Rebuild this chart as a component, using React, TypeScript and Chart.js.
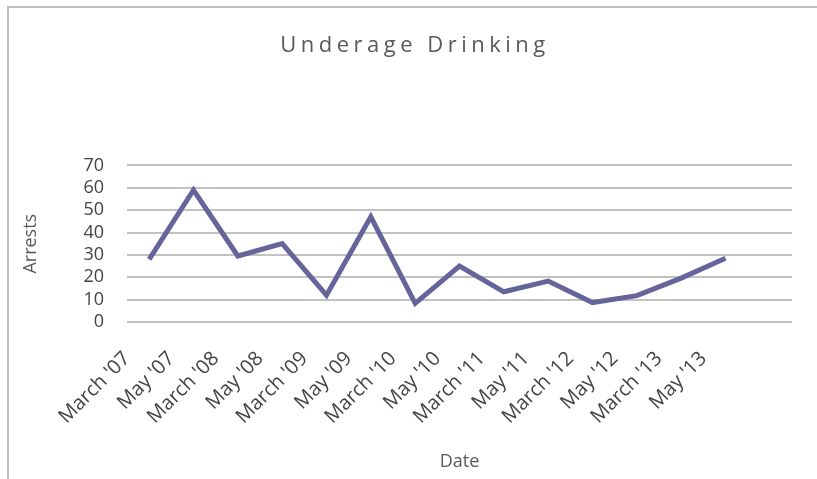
import React, { useEffect, useRef } from "react";
import { Chart, registerables } from "chart.js";

Chart.register(...registerables);

const categories = [
  "March '07", "May '07", "March '08", "May '08", "March '09", "May '09",
  "March '10", "May '10", "March '11", "May '11", "March '12", "May '12",
  "March '13", "May '13", "",
];
const arrests = [28, 59, 29.5, 35, 12, 47, 8.3, 25, 13.5, 18.3, 8.7, 11.8, 19.6, 28.5, null];
const yMin = 0;
const yMax = 70;
const yStep = 10;

const W = 817;
const H = 479;
const FONT = "'Open Sans', sans-serif";
const TEXT = "#595959";
const TICK = "#444444";

export default function App() {
  const ref = useRef<HTMLCanvasElement | null>(null);

  useEffect(() => {
    if (!ref.current) return;
    const spacedTitle = {
      id: "spacedTitle",
      afterLayout(chart: any) {
        const tb = chart.titleBlock;
        if (tb && !tb.__patched) {
          const orig = tb.draw.bind(tb);
          tb.draw = function () {
            const ctx = chart.ctx;
            ctx.save();
            (ctx as any).letterSpacing = "4.5px";
            ctx.translate(14, 0);
            orig();
            ctx.restore();
          };
          tb.__patched = true;
        }
      },
    };
    const chart = new Chart(ref.current, {
      type: "line",
      data: {
        labels: categories,
        datasets: [
          {
            label: "Arrests",
            data: arrests,
            borderColor: "#65659b",
            backgroundColor: "#65659b",
            borderWidth: 5,
            pointRadius: 0,
            tension: 0,
            spanGaps: false,
          },
        ],
      },
      options: {
        responsive: false,
        animation: false,
        layout: { padding: { left: 10, right: 25, top: 10, bottom: 0 } },
        plugins: {
          legend: { display: false },
          tooltip: { enabled: false },
          title: {
            display: true,
            text: "Underage Drinking",
            color: TEXT,
            font: { family: FONT, size: 22, weight: "normal" },
            padding: { top: 23, bottom: 106 },
          },
        },
        scales: {
          x: {
            type: "category",
            offset: true,
            grid: { display: false },
            border: { display: false },
            ticks: {
              color: TICK,
              font: { family: FONT, size: 20 },
              minRotation: 45,
              maxRotation: 45,
              autoSkip: false,
              padding: 17,
              labelOffset: -22,
            },
            title: {
              display: true,
              text: "Date",
              color: TEXT,
              font: { family: FONT, size: 18 },
              padding: { top: 0, bottom: 6 },
            },
            afterFit: (s: any) => {
              s.height = H - 322;
            },
          },
          y: {
            min: yMin,
            max: yMax,
            grid: { color: "#c2c2c2", lineWidth: 2, drawTicks: false },
            border: { display: false },
            ticks: {
              stepSize: yStep,
              autoSkip: false,
              color: TICK,
              font: { family: FONT, size: 18 },
              padding: 23,
            },
            title: {
              display: true,
              text: "Arrests",
              color: TEXT,
              font: { family: FONT, size: 18 },
              padding: { top: 10, bottom: 0 },
            },
            afterFit: (s: any) => {
              s.width = 117;
            },
          },
        },
      },
      plugins: [spacedTitle],
    });
    return () => chart.destroy();
  }, []);

  return (
    <div style={{ position: "fixed", left: 0, top: 0, width: W, height: H, background: "#fff" }}>
      <div
        style={{
          position: "absolute",
          left: 7,
          top: 6,
          right: 0,
          bottom: 0,
          borderTop: "2px solid #bfbfbf",
          borderLeft: "2px solid #bfbfbf",
        }}
      />
      <canvas ref={ref} width={W} height={H} style={{ position: "absolute", left: 0, top: 0 }} />
    </div>
  );
}
